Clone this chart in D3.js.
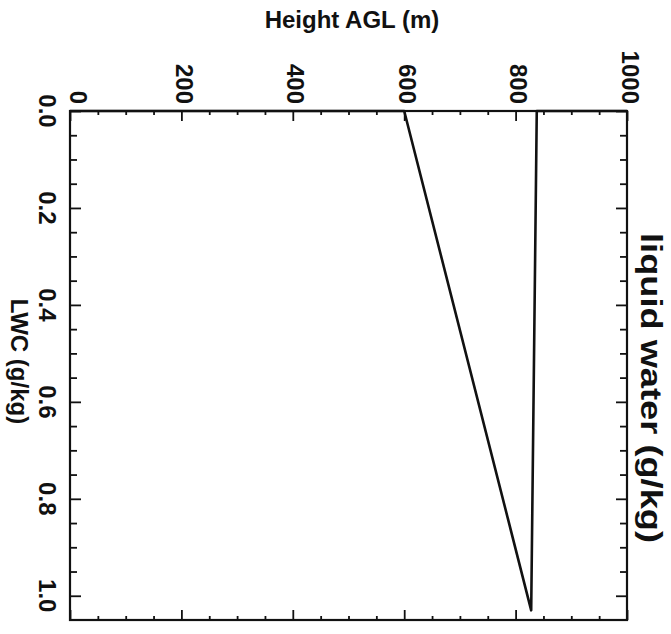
<!DOCTYPE html>
<html><head><meta charset="utf-8">
<script src="https://cdn.jsdelivr.net/npm/d3@7"></script>
<style>
html,body{margin:0;padding:0;background:#fff;}
svg text{font-family:"Liberation Sans",Arial,Helvetica,sans-serif;font-weight:bold;fill:#111;}
</style></head>
<body><svg id="c" width="671" height="634"></svg>
<script>
// Data (chart is rotated: height runs left->right, LWC runs top->bottom)
const heights = [0, 600, 828, 838, 1000];      // Height AGL (m)
const lwc     = [0, 0, 1.03, 0, 0];            // LWC (g/kg)
const heightMajor = [0, 200, 400, 600, 800, 1000];
const heightLabels = ["0", "200", "400", "600", "800", "1000"];
const lwcMajor = [0, 0.2, 0.4, 0.6, 0.8, 1.0];
const lwcLabels = ["0.0", "0.2", "0.4", "0.6", "0.8", "1.0"];

const svg = d3.select("#c");
const L = 70, R = 627, T = 111, B = 620;
const x = d3.scaleLinear().domain([0, 1000]).range([L, R]);
const y = d3.scaleLinear().domain([0, 1.05]).range([T, B]);

const hMinor = d3.range(0, 1001, 50).filter(v => v % 200 !== 0);
const lMinor = d3.range(0, 21).map(i => i * 0.05).filter(v => v <= 1.05 && Math.abs(v / 0.2 - Math.round(v / 0.2)) > 1e-6);

function styleAxis(g){ g.select(".domain").remove(); g.selectAll("line").attr("stroke","#111").attr("stroke-width",1.8); g.selectAll("text").remove(); }

// top & bottom (height axis)
svg.append("g").attr("transform",`translate(0,${T})`).call(d3.axisBottom(x).tickValues(heightMajor).tickSize(10)).call(styleAxis);
svg.append("g").attr("transform",`translate(0,${T})`).call(d3.axisBottom(x).tickValues(hMinor).tickSize(4)).call(styleAxis);
svg.append("g").attr("transform",`translate(0,${B})`).call(d3.axisTop(x).tickValues(heightMajor).tickSize(10)).call(styleAxis);
svg.append("g").attr("transform",`translate(0,${B})`).call(d3.axisTop(x).tickValues(hMinor).tickSize(4)).call(styleAxis);
// left & right (LWC axis)
svg.append("g").attr("transform",`translate(${L},0)`).call(d3.axisRight(y).tickValues(lwcMajor).tickSize(11)).call(styleAxis);
svg.append("g").attr("transform",`translate(${L},0)`).call(d3.axisRight(y).tickValues(lMinor).tickSize(7)).call(styleAxis);
svg.append("g").attr("transform",`translate(${R},0)`).call(d3.axisLeft(y).tickValues(lwcMajor).tickSize(11)).call(styleAxis);
svg.append("g").attr("transform",`translate(${R},0)`).call(d3.axisLeft(y).tickValues(lMinor).tickSize(7)).call(styleAxis);

// frame
svg.append("rect").attr("x",L).attr("y",T).attr("width",R-L).attr("height",B-T)
  .attr("fill","none").attr("stroke","#111").attr("stroke-width",2.2);

// data line
const line = d3.line().x((d,i)=>x(heights[i])).y((d,i)=>y(lwc[i]));
svg.append("path").datum(heights).attr("d",line).attr("fill","none")
  .attr("stroke","#111").attr("stroke-width",2.6).attr("stroke-linejoin","round");

// height tick labels (rotated)
heightMajor.forEach((v,i)=>{
  svg.append("text").attr("transform",`translate(${x(v)+(i===0?8:3)},104) rotate(90)`)
    .attr("text-anchor","end").attr("dominant-baseline","central")
    .attr("font-size",24).text(heightLabels[i]);
});
// LWC tick labels (rotated)
lwcMajor.forEach((v,i)=>{
  svg.append("text").attr("transform",`translate(47,${y(v)}) rotate(90)`)
    .attr("text-anchor","middle").attr("dominant-baseline","central")
    .attr("font-size",24).text(lwcLabels[i]);
});

// axis titles
svg.append("text").attr("x",352).attr("y",28).attr("text-anchor","middle")
  .attr("font-size",24).text("Height AGL (m)");
svg.append("text").attr("transform",`translate(11,${(T+B)/2-4}) rotate(90)`)
  .attr("text-anchor","middle").attr("font-size",24).text("LWC (g/kg)");
svg.append("text").attr("transform",`translate(641,388) rotate(90)`)
  .attr("text-anchor","middle").attr("font-size",30)
  .attr("textLength",310).attr("lengthAdjust","spacingAndGlyphs").text("liquid water (g/kg)");
</script></body></html>
